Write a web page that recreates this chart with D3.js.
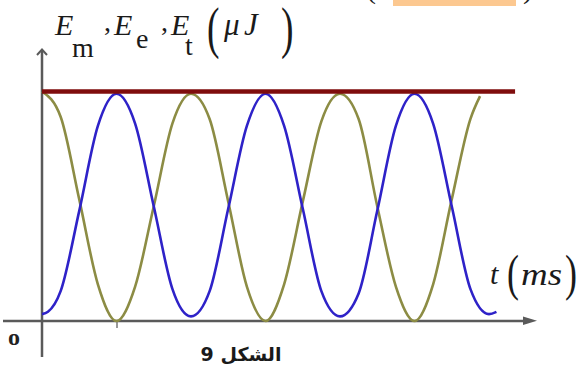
<!DOCTYPE html>
<html>
<head>
<meta charset="utf-8">
<script src="https://cdn.jsdelivr.net/npm/d3@7"></script>
<style>
  html, body { margin: 0; padding: 0; background: #ffffff; }
  svg { display: block; }
</style>
</head>
<body>
<svg id="chart" width="582" height="367"></svg>
<script>
// ---- data (t in arbitrary ms units, energy in μJ normalised) ----
const greenT = [0,0.25,0.5,0.75,1,1.25,1.5,1.75,2,2.25,2.5,2.75,3,3.25,3.5,3.75,4,4.25,4.5,4.75,5,5.25,5.5,5.75,5.88];
const greenE = [1.0,0.89,0.53,0.16,0.0,0.15,0.5,0.86,0.99,0.88,0.52,0.15,0.0,0.16,0.52,0.87,0.99,0.88,0.5,0.15,0.0,0.16,0.53,0.88,0.98];
const blueT  = [0,0.08,0.25,0.5,0.75,1,1.25,1.5,1.75,2,2.25,2.5,2.75,3,3.25,3.5,3.75,4,4.25,4.5,4.75,5,5.25,5.5,5.75,6,6.1];
const blueE  = [0.03,0.04,0.13,0.48,0.85,0.99,0.86,0.5,0.14,0.02,0.13,0.49,0.85,0.99,0.85,0.49,0.13,0.02,0.12,0.48,0.85,0.99,0.86,0.5,0.14,0.03,0.04];
const totalT = [0, 6.35];
const totalE = [1, 1];
const xTicks = [1];

const svg = d3.select("#chart");

const x = d3.scaleLinear().domain([0, 6]).range([42, 489]);
const y = d3.scaleLinear().domain([0, 1]).range([321, 91.5]);

const axisColor = "#5a5a5a";

// top cut-off text line
svg.append("rect").attr("x", 393).attr("y", 0).attr("width", 123).attr("height", 6).attr("fill", "#fcc890");
svg.append("text").attr("x", 366).attr("y", -2).attr("font-family", "Liberation Serif").attr("font-size", 30).attr("fill", "#222").text("(");
svg.append("text").attr("x", 523).attr("y", -2).attr("font-family", "Liberation Serif").attr("font-size", 30).attr("fill", "#222").text(")");

// axes lines
svg.append("line").attr("x1", 42).attr("x2", 42).attr("y1", 50).attr("y2", 357)
  .attr("stroke", axisColor).attr("stroke-width", 2.5);
svg.append("path").attr("d", "M37,55 L42,49.5 L47,55").attr("fill", "none")
  .attr("stroke", axisColor).attr("stroke-width", 2);
svg.append("line").attr("x1", 3).attr("x2", 525).attr("y1", 321).attr("y2", 321)
  .attr("stroke", axisColor).attr("stroke-width", 2.5);
svg.append("path").attr("d", "M523,316.5 L537,320.8 L523,325 Z").attr("fill", axisColor);

// tick via d3 axis
const xAxis = d3.axisBottom(x).tickValues(xTicks).tickSize(7).tickFormat("");
const gx = svg.append("g").attr("transform", "translate(0,321)").call(xAxis);
gx.select(".domain").remove();
gx.selectAll(".tick line").attr("stroke", "#777").attr("stroke-width", 1.5);

// curves
const line = d3.line().x(d => x(d[0])).y(d => y(d[1])).curve(d3.curveMonotoneX);

svg.append("path").datum(greenT.map((t, i) => [t, greenE[i]]))
  .attr("d", line).attr("fill", "none").attr("stroke", "#8c8c44").attr("stroke-width", 2.6);
svg.append("path").datum(blueT.map((t, i) => [t, blueE[i]]))
  .attr("d", line).attr("fill", "none").attr("stroke", "#2e22c8").attr("stroke-width", 2.6);
svg.append("path").datum(totalT.map((t, i) => [t, totalE[i]]))
  .attr("d", d3.line().x(d => x(d[0])).y(d => y(d[1]))).attr("fill", "none")
  .attr("stroke", "#7f0d0d").attr("stroke-width", 4.5);

// y label: E_m ,E_e ,E_t(μJ)
const serif = "Liberation Serif, Times New Roman, serif";
const lab = svg.append("g").attr("font-family", serif).attr("fill", "#1a1a1a");
function t(xp, yp, s, size, italic) {
  return lab.append("text").attr("x", xp).attr("y", yp).attr("font-size", size)
    .attr("font-style", italic ? "italic" : "normal").text(s);
}
t(55, 35, "E", 30, true);
t(72, 57, "m", 28, false);
t(104, 31, ",", 28, false);
t(114, 35, "E", 30, true);
t(136, 48, "e", 28, false);
t(161, 31, ",", 28, false);
t(171, 35, "E", 30, true);
t(185, 55, "t", 28, false);
lab.append("text").attr("transform", "translate(207,46.5) scale(1.25,1.9)").attr("font-size", 30).text("(");
t(224, 35, "μ", 31, true);
t(244, 35, "J", 31, true);
lab.append("text").attr("transform", "translate(281,46.5) scale(1.25,1.9)").attr("font-size", 30).text(")");

// x label: t(ms)
t(490, 284, "t", 30, true);
lab.append("text").attr("transform", "translate(507,290) scale(1.2,1.7)").attr("font-size", 30).text("(");
lab.append("text").attr("x", 521).attr("y", 285).attr("font-size", 31).attr("font-style", "italic")
  .attr("textLength", 41).attr("lengthAdjust", "spacingAndGlyphs").text("ms");
lab.append("text").attr("transform", "translate(565,290) scale(1.2,1.7)").attr("font-size", 30).text(")");

// origin label
svg.append("text").attr("x", 8).attr("y", 345).attr("font-family", serif).attr("font-weight", "bold")
  .attr("font-size", 24).attr("fill", "#222").text("o");

// figure caption
svg.append("text").attr("x", 241).attr("y", 361).attr("text-anchor", "middle")
  .attr("direction", "rtl").attr("font-family", "DejaVu Sans, Noto Sans, sans-serif")
  .attr("font-weight", "bold").attr("font-size", 19).attr("fill", "#1a1a1a").text("الشكل 9");
</script>
</body>
</html>
